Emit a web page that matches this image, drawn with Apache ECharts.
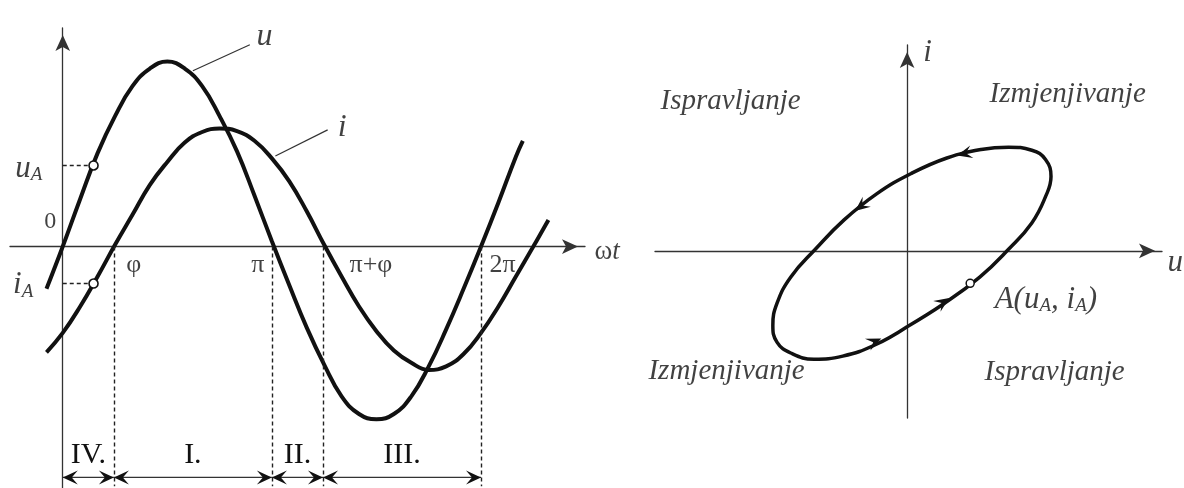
<!DOCTYPE html>
<html>
<head>
<meta charset="utf-8">
<script src="https://cdn.jsdelivr.net/npm/echarts@6/dist/echarts.min.js"></script>
<style>
  html, body { margin: 0; padding: 0; background: #fff; }
  #main { width: 1184px; height: 488px; }
</style>
</head>
<body>
<div id="main"></div>
<script>
// ωt in degrees, curve values (u peak ~ 105 units)
var thetaU = [-14, 0, 15, 30, 45, 60, 75, 90, 105, 120, 135, 150, 165, 180, 195, 210, 225, 240, 255, 270, 285, 300, 315, 330, 345, 360, 375, 390, 396];
var uWave = [-24, 0, 27, 53, 74, 91, 101, 105, 101, 91, 74, 54, 29, 3, -22, -46, -67, -85, -95, -98, -95, -85, -68, -47, -24, 0, 25, 51, 60];

var thetaI = [-14, 0, 15, 30, 45, 60, 75, 90, 105, 120, 135, 150, 165, 180, 195, 210, 225, 240, 255, 270, 285, 300, 315, 330, 345, 360, 375, 390, 405, 418];
var iWave = [-60, -49, -34, -17, 1, 18, 35, 48, 59, 65, 67, 65.5, 60, 50, 37, 20, 1, -17, -34, -48, -59, -66, -70, -68, -61, -49, -34, -17, 0, 15];

// marked angles on the ωt axis
var markDeg = [44, 180, 224, 360];
var markNames = ['φ', 'π', 'π+φ', '2π'];

// intervals under the axis
var regionEdges = [0, 44, 180, 224, 360];
var regionNames = ['IV.', 'I.', 'II.', 'III.'];

// point A
var thetaA = 26.5;
var uA = 46;
var iA = -21;

// arrows on the u-i loop (between these angles)
var loopArrowDeg = [[150, 165], [195, 210], [330, 360], [0, 30]];

var quadNames = ['Ispravljanje', 'Izmjenjivanje', 'Izmjenjivanje', 'Ispravljanje'];

var FONT = 'Liberation Serif';
var INK = '#111';

var chart = echarts.init(document.getElementById('main'), null, { renderer: 'canvas' });

function pairs(xs, ys) {
  return xs.map(function (x, k) { return [x, ys[k]]; });
}

// (u, i) at the same ωt
function uiAt(deg) {
  return [uWave[thetaU.indexOf(deg)], iWave[thetaI.indexOf(deg)]];
}

var loop = [];
for (var d = 0; d < 360; d += 15) loop.push(uiAt(d));
loop.push(loop[0]);

var rich = {
  it: { fontFamily: FONT, fontStyle: 'italic', fontSize: 31, color: INK, lineHeight: 32 },
  big: { fontFamily: FONT, fontStyle: 'italic', fontSize: 32, color: INK, lineHeight: 34 },
  sub: { fontFamily: FONT, fontStyle: 'italic', fontSize: 19, color: INK, verticalAlign: 'bottom', lineHeight: 10 },
  up: { fontFamily: FONT, fontSize: 27, color: INK, lineHeight: 32 },
  t: { fontFamily: FONT, fontStyle: 'italic', fontSize: 27, color: INK, lineHeight: 32 }
};

function txt(value, text, o) {
  o = o || {};
  return {
    value: value,
    label: {
      show: true,
      position: [0, 0],
      formatter: text,
      align: o.align || 'center',
      verticalAlign: 'middle',
      offset: o.offset || [0, 0],
      fontFamily: FONT,
      fontSize: o.size || 24,
      fontStyle: o.italic ? 'italic' : 'normal',
      color: INK,
      rich: rich
    }
  };
}

function axisBase(grid, min, max) {
  return {
    type: 'value',
    gridIndex: grid,
    min: min,
    max: max,
    axisLine: {
      show: true,
      onZero: true,
      symbol: ['none', 'arrow'],
      symbolSize: [11, 16],
      symbolOffset: [0, -7],
      lineStyle: { color: '#333', width: 1.3 }
    },
    axisTick: { show: false },
    axisLabel: { show: false },
    splitLine: { show: false }
  };
}

// arrow head polygon, tip at (x, y), pointing along angle a
function headPoints(x, y, a, len, half) {
  var pts = [[0, 0], [-len, -half], [-len * 0.6, 0], [-len, half]];
  var c = Math.cos(a), s = Math.sin(a);
  return pts.map(function (p) {
    return [x + p[0] * c - p[1] * s, y + p[0] * s + p[1] * c];
  });
}

var regionRowV = -131;
var markDx = [13, -7, 27, 9];
var markAlign = ['left', 'right', 'left', 'left'];

var leftTexts = [
  txt([0, 0], '0', { align: 'right', offset: [-6, -24], size: 24 }),
  txt([0, uA], '{it|u}{sub|A}', { align: 'right', offset: [-20, 4] }),
  txt([0, iA], '{it|i}{sub|A}', { align: 'right', offset: [-29, 2] }),
  txt([174, 119], '{big|u}'),
  txt([241, 67], '{big|i}'),
  txt([449.5, 0], '{up|ω}{t|t}', { align: 'left', offset: [10, 6] })
].concat(markDeg.map(function (d, k) {
  return txt([d, 0], markNames[k], { align: markAlign[k], offset: [markDx[k], 19], size: 26 });
}));

var rightTexts = [
  txt([-128.5, 96.3], quadNames[0], { italic: true, size: 29 }),
  txt([117.5, 100.8], quadNames[1], { italic: true, size: 29 }),
  txt([-131.4, -78.2], quadNames[2], { italic: true, size: 29 }),
  txt([108, -78.8], quadNames[3], { italic: true, size: 29 }),
  txt([0, 133], '{it|i}', { offset: [21, 8] }),
  txt([186, 0], '{it|u}', { align: 'left', offset: [6, 12] }),
  txt([uA, iA], '{it|A(u}{sub|A}{it|, i}{sub|A}{it|)}', { align: 'left', offset: [25, 17] })
];

var dashed = markDeg.map(function (d) {
  return [{ coord: [d, 0] }, { coord: [d, -136] }];
}).concat([
  [{ coord: [0, uA] }, { coord: [thetaA, uA] }],
  [{ coord: [0, iA] }, { coord: [thetaA, iA] }]
]);

var option = {
  animation: false,
  backgroundColor: '#fff',
  grid: [
    { left: 10, top: 28, width: 575, height: 460 },
    { left: 655, top: 45, width: 507, height: 373 }
  ],
  xAxis: [axisBase(0, -45.4, 449.5), axisBase(1, -184, 186)],
  yAxis: [axisBase(0, -137, 124), axisBase(1, -108, 133)],
  series: [
    {
      name: 'u',
      type: 'line',
      xAxisIndex: 0, yAxisIndex: 0,
      data: pairs(thetaU, uWave),
      smooth: 0.45,
      symbol: 'none',
      lineStyle: { color: INK, width: 4 },
      z: 4,
      markLine: {
        silent: true,
        symbol: ['none', 'none'],
        label: { show: false },
        lineStyle: { type: [4, 3], color: '#222', width: 1.4 },
        data: dashed
      }
    },
    {
      name: 'i',
      type: 'line',
      xAxisIndex: 0, yAxisIndex: 0,
      data: pairs(thetaI, iWave),
      smooth: 0.45,
      symbol: 'none',
      lineStyle: { color: INK, width: 4 },
      z: 4
    },
    {
      name: 'leaderU',
      type: 'line',
      xAxisIndex: 0, yAxisIndex: 0,
      data: [[112, 99.7], [161, 114.5]],
      symbol: 'none',
      lineStyle: { color: '#333', width: 1.2 }
    },
    {
      name: 'leaderI',
      type: 'line',
      xAxisIndex: 0, yAxisIndex: 0,
      data: [[183, 51.4], [228, 66.2]],
      symbol: 'none',
      lineStyle: { color: '#333', width: 1.2 }
    },
    {
      name: 'pointsA',
      type: 'scatter',
      xAxisIndex: 0, yAxisIndex: 0,
      data: [[thetaA, uA], [thetaA, iA]],
      symbol: 'circle',
      symbolSize: 9,
      itemStyle: { color: '#fff', borderColor: INK, borderWidth: 1.6, opacity: 1 },
      z: 6
    },
    {
      name: 'regions',
      type: 'custom',
      xAxisIndex: 0, yAxisIndex: 0,
      data: regionNames.map(function (n, k) { return [regionEdges[k], regionEdges[k + 1]]; }),
      encode: { x: [0, 1] },
      renderItem: function (params, api) {
        var a = api.coord([api.value(0), regionRowV]);
        var b = api.coord([api.value(1), regionRowV]);
        var y = a[1];
        return {
          type: 'group',
          children: [
            { type: 'line', shape: { x1: a[0], y1: y, x2: b[0], y2: y }, style: { stroke: '#333', lineWidth: 1.2 } },
            { type: 'polygon', shape: { points: headPoints(a[0], y, Math.PI, 15, 7) }, style: { fill: INK } },
            { type: 'polygon', shape: { points: headPoints(b[0], y, 0, 15, 7) }, style: { fill: INK } },
            {
              type: 'text',
              style: {
                text: regionNames[params.dataIndex],
                x: (a[0] + b[0]) / 2, y: y - 22,
                align: 'center', verticalAlign: 'middle',
                fontFamily: FONT, fontSize: 30, fill: INK
              }
            }
          ]
        };
      },
      z: 3
    },
    {
      name: 'labelsLeft',
      type: 'scatter',
      xAxisIndex: 0, yAxisIndex: 0,
      data: leftTexts,
      symbolSize: 1,
      itemStyle: { color: 'rgba(0,0,0,0)' },
      silent: true,
      z: 7
    },
    {
      name: 'loop',
      type: 'line',
      xAxisIndex: 1, yAxisIndex: 1,
      data: loop,
      smooth: 0.45,
      symbol: 'none',
      lineStyle: { color: INK, width: 3.5 },
      z: 4
    },
    {
      name: 'loopArrows',
      type: 'custom',
      xAxisIndex: 1, yAxisIndex: 1,
      data: loopArrowDeg.map(function (p) { return uiAt(p[0]).concat(uiAt(p[1])); }),
      encode: { x: [0, 2], y: [1, 3] },
      renderItem: function (params, api) {
        var p = api.coord([api.value(0), api.value(1)]);
        var q = api.coord([api.value(2), api.value(3)]);
        var a = Math.atan2(q[1] - p[1], q[0] - p[0]);
        var mx = (p[0] + q[0]) / 2 + 7 * Math.cos(a);
        var my = (p[1] + q[1]) / 2 + 7 * Math.sin(a);
        return {
          type: 'polygon',
          shape: { points: headPoints(mx, my, a, 15, 6.5) },
          style: { fill: INK }
        };
      },
      z: 5
    },
    {
      name: 'pointA',
      type: 'scatter',
      xAxisIndex: 1, yAxisIndex: 1,
      data: [[uA, iA]],
      symbol: 'circle',
      symbolSize: 8,
      itemStyle: { color: '#fff', borderColor: INK, borderWidth: 1.5, opacity: 1 },
      z: 6
    },
    {
      name: 'labelsRight',
      type: 'scatter',
      xAxisIndex: 1, yAxisIndex: 1,
      data: rightTexts,
      symbolSize: 1,
      itemStyle: { color: 'rgba(0,0,0,0)' },
      silent: true,
      z: 7
    }
  ]
};

chart.setOption(option);
</script>
</body>
</html>
